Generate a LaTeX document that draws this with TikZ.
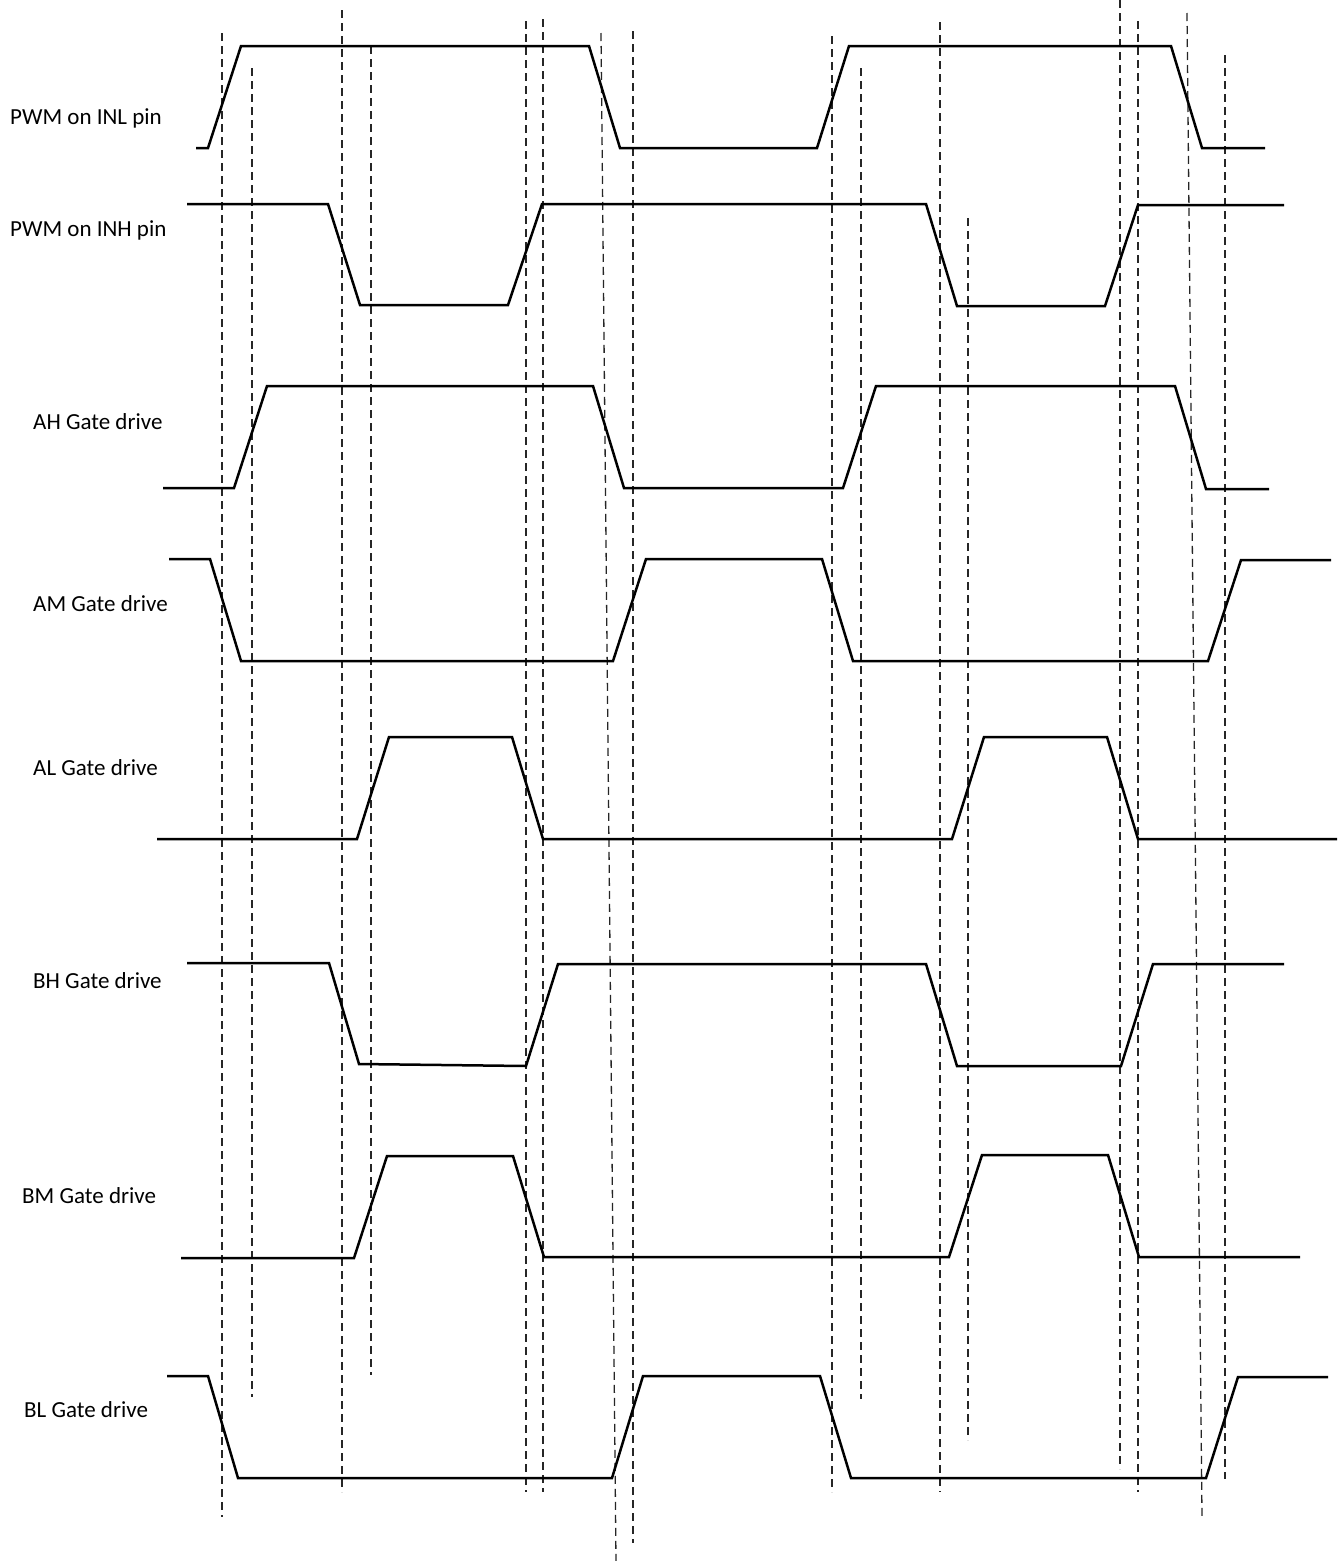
\documentclass[tikz,border=0pt]{standalone}
\usepackage{fontspec}
\setmainfont{Carlito}
\begin{document}
\begin{tikzpicture}[x=1pt,y=-1pt,
  sig/.style={line width=2.5pt,line join=miter,black},
  guide/.style={line width=1.3pt,dash pattern=on 8pt off 5pt,black!85},
  lbl/.style={anchor=base west,inner sep=0pt,font=\fontsize{23}{27}\selectfont}]
\useasboundingbox[fill=white] (0,0) rectangle (1340,1561);
% labels
\node[lbl] (l1) at (10,124) {PWM on INL pin};
\node[lbl] (l2) at (10,236) {PWM on INH pin};
\node[lbl] (l3) at (33,429) {AH Gate drive};
\node[lbl] (l4) at (33,611) {AM Gate drive};
\node[lbl] (l5) at (33,775) {AL Gate drive};
\node[lbl] (l6) at (33,988) {BH Gate drive};
\node[lbl] (l7) at (22,1203) {BM Gate drive};
\node[lbl] (l8) at (24,1417) {BL Gate drive};
% dashed timing guides
\draw[guide] (222,33) -- (222,1517);
\draw[guide] (252,68) -- (252,1397);
\draw[guide] (342,10) -- (342,1492);
\draw[guide] (371,46) -- (371,1375);
\draw[guide] (526,21) -- (526,1492);
\draw[guide] (543,19) -- (543,1492);
\draw[guide] (601,33) -- (616,1561);
\draw[guide] (633,31) -- (633,1543);
\draw[guide] (832,36) -- (832,1492);
\draw[guide] (861,68) -- (861,1399);
\draw[guide] (940,22) -- (940,1492);
\draw[guide] (968,218) -- (968,1440);
\draw[guide] (1120,0) -- (1120,1469);
\draw[guide] (1138,21) -- (1138,1492);
\draw[guide] (1187,13) -- (1202,1516);
\draw[guide] (1225,55) -- (1225,1479);
% signals
\draw[sig] (196,148) -- (208,148) -- (241,46) -- (589,46) -- (620,148) -- (817,148) -- (849,46) -- (1171,46) -- (1202,148) -- (1265,148);
\draw[sig] (187,204) -- (328,204) -- (360,305) -- (508,305) -- (542,204) -- (926,204) -- (957,306) -- (1105,306) -- (1138,205) -- (1284,205);
\draw[sig] (163,488) -- (234,488) -- (267,386) -- (593,386) -- (624,488) -- (843,488) -- (876,386) -- (1175,386) -- (1206,489) -- (1269,489);
\draw[sig] (169,559) -- (210,559) -- (241,661) -- (613,661) -- (646,559) -- (822,559) -- (853,661) -- (1208,661) -- (1241,560) -- (1331,560);
\draw[sig] (157,839) -- (357,839) -- (389,737) -- (512,737) -- (543,839) -- (952,839) -- (984,737) -- (1107,737) -- (1138,839) -- (1337,839);
\draw[sig] (187,963) -- (329,963) -- (359,1064) -- (526,1066) -- (558,964) -- (926,964) -- (957,1066) -- (1121,1066) -- (1153,964) -- (1284,964);
\draw[sig] (181,1258) -- (354,1258) -- (387,1156) -- (513,1156) -- (544,1257) -- (949,1257) -- (982,1155) -- (1108,1155) -- (1139,1257) -- (1300,1257);
\draw[sig] (167,1376) -- (208,1376) -- (238,1478) -- (612,1478) -- (643,1376) -- (820,1376) -- (851,1478) -- (1206,1478) -- (1238,1377) -- (1328,1377);
\end{tikzpicture}
\end{document}
